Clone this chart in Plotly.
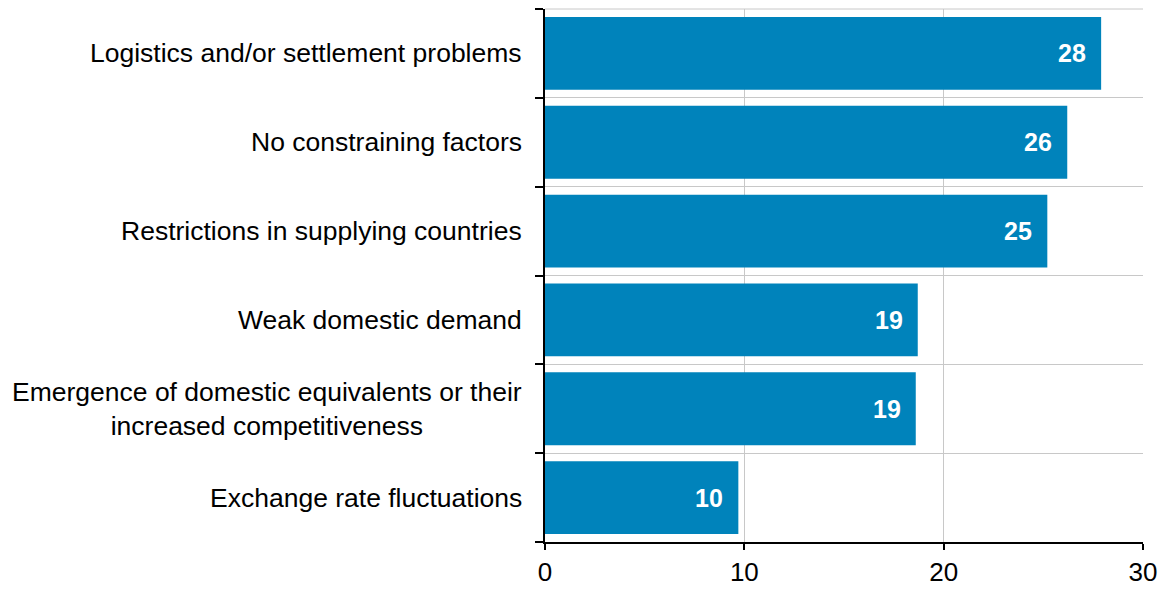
import plotly.graph_objects as go

categories = [
    "Logistics and/or settlement problems",
    "No constraining factors",
    "Restrictions in supplying countries",
    "Weak domestic demand",
    "Emergence of domestic equivalents or their<br>increased competitiveness",
    "Exchange rate fluctuations",
]
values = [27.9, 26.2, 25.2, 18.7, 18.6, 9.7]
value_labels = ["28", "26", "25", "19", "19", "10"]
x_ticks = [0, 10, 20, 30]

BAR_COLOR = "#0083BB"
GRID = "#C8C8C8"
FONT = "Liberation Sans, Arial, sans-serif"

fig = go.Figure()
fig.add_trace(go.Bar(
    x=values,
    y=categories,
    orientation="h",
    marker=dict(color=BAR_COLOR, line=dict(width=0)),
    hoverinfo="skip",
))

annotations = []
for cat, v, lab in zip(categories, values, value_labels):
    annotations.append(dict(
        x=v, y=cat, xref="x", yref="y", text=f"<b>{lab}</b>",
        xanchor="right", yanchor="middle", xshift=-13, showarrow=False,
        font=dict(family=FONT, size=25, color="white"),
    ))
    annotations.append(dict(
        x=0, y=cat, xref="paper", yref="y", text=cat,
        xanchor="right", yanchor="middle", xshift=-21, showarrow=False,
        align="center",
        font=dict(family=FONT, size=26.5, color="black"),
    ))

fig.update_layout(
    width=1169, height=590,
    margin=dict(l=545, r=26, t=9, b=48),
    paper_bgcolor="white", plot_bgcolor="white",
    bargap=0.18,
    showlegend=False,
    annotations=annotations,
    font=dict(family=FONT, size=26, color="black"),
    shapes=[dict(type="line", xref="paper", yref="paper", x0=0, x1=1, y0=1, y1=1,
                 line=dict(color=GRID, width=1), layer="below")],
)
fig.update_xaxes(
    range=[0, 30], tickvals=x_ticks, ticktext=[str(t) for t in x_ticks],
    showgrid=True, gridcolor=GRID, gridwidth=1,
    showline=True, linecolor="black", linewidth=2,
    ticks="outside", ticklen=6, tickwidth=2, tickcolor="black",
    tickfont=dict(family=FONT, size=26, color="black"),
    ticklabelstandoff=0, automargin=False,
    zeroline=False, fixedrange=True,
)
fig.update_yaxes(
    type="category", categoryorder="array", categoryarray=categories[::-1],
    tickson="boundaries", showticklabels=False,
    showgrid=True, gridcolor=GRID, gridwidth=1,
    showline=True, linecolor="black", linewidth=2,
    ticks="outside", ticklen=8, tickwidth=2, tickcolor="black",
    automargin=False,
    zeroline=False, fixedrange=True,
)

fig.write_html("out.html")
